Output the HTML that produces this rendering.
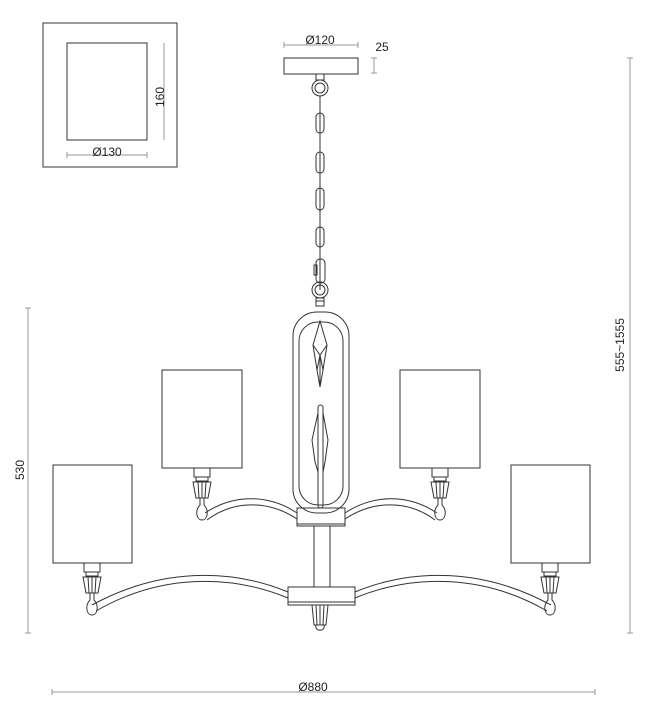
<!DOCTYPE html>
<html><head><meta charset="utf-8"><style>
html,body{margin:0;padding:0;background:#fff;}
svg{display:block;}
text{font-family:"Liberation Sans",sans-serif;fill:#222;}
</style></head><body>
<svg width="647" height="720" viewBox="0 0 647 720" xmlns="http://www.w3.org/2000/svg">
<g fill="none" stroke="#333" stroke-width="1">
<!-- top-left detail box -->
<rect x="43" y="23" width="134" height="144"/>
<rect x="67" y="43" width="80" height="97"/>
<line x1="164" y1="43" x2="164" y2="140" stroke="#999"/>
<line x1="67" y1="155" x2="147" y2="155" stroke="#999"/>
<line x1="67" y1="152" x2="67" y2="158" stroke="#999"/>
<line x1="147" y1="152" x2="147" y2="158" stroke="#999"/>
<!-- canopy -->
<rect x="284" y="58" width="74" height="16"/>
<line x1="284" y1="45" x2="358" y2="45" stroke="#999"/>
<line x1="284" y1="42" x2="284" y2="48" stroke="#999"/>
<line x1="358" y1="42" x2="358" y2="48" stroke="#999"/>
<line x1="374" y1="58" x2="374" y2="73" stroke="#999"/>
<line x1="371" y1="58" x2="377" y2="58" stroke="#999"/>
<line x1="371" y1="73" x2="377" y2="73" stroke="#999"/>
<!-- chain -->
<rect x="316" y="74" width="8" height="6"/>
<circle cx="320" cy="88" r="8"/><circle cx="320" cy="88" r="5"/>
<line x1="320" y1="96" x2="320" y2="290"/>
<rect x="316" y="113" width="8" height="20" rx="4"/>
<rect x="316" y="152" width="8" height="21" rx="4"/>
<rect x="316" y="188" width="8" height="22" rx="4"/>
<rect x="316" y="227" width="8" height="20" rx="4"/>
<rect x="316" y="259" width="9" height="24" rx="4"/>
<rect x="314" y="265" width="3" height="10"/>
<circle cx="320" cy="290" r="8"/><circle cx="320" cy="290" r="5"/>
<rect x="316" y="298" width="8" height="8"/>
<line x1="316" y1="301" x2="324" y2="301"/>
<!-- frame -->
<rect x="293" y="312" width="56" height="201" rx="24"/>
<rect x="299" y="322" width="44" height="183" rx="19"/>
<path d="M320 321 L327 345 L323 370 L320 387 L317 370 L313 345 Z"/>
<path d="M313 345 L320 355 L327 345 M317 370 L320 355 L323 370 M320 355 L320 387"/>
<rect x="318" y="405" width="5" height="103" rx="2.5"/>
<path d="M318 413 L312 440 L315 462 L318 472 M323 413 L328 440 L325 462 L323 472"/>
<!-- upper hub and stem -->
<rect x="297" y="508" width="48" height="18"/>
<line x1="297" y1="524" x2="345" y2="524"/>
<rect x="314" y="526" width="16" height="61"/>
<rect x="288" y="587" width="67" height="18"/>
<line x1="288" y1="602" x2="355" y2="602"/>
<!-- upper arms -->
<path d="M297 513 C270 495 235 493 205 513"/>
<path d="M297 519 C270 501 235 499 207 520"/>
<path d="M345 513 C372 495 407 493 437 513"/>
<path d="M345 519 C372 501 407 499 435 520"/>
<!-- lower arms -->
<path d="M288 592 C230 568 160 568 92 605"/>
<path d="M288 598 C230 574 160 574 96 611"/>
<path d="M355 592 C413 568 483 568 551 605"/>
<path d="M355 598 C413 574 483 574 547 611"/>
<!-- shades -->
<rect x="162" y="370" width="80" height="98"/>
<rect x="400" y="370" width="80" height="98"/>
<rect x="53" y="465" width="79" height="98"/>
<rect x="511" y="465" width="79" height="98"/>
</g>
<!-- finials -->
<defs>
<g id="fin" fill="none" stroke="#333" stroke-width="1">
<rect x="-8" y="0" width="16" height="9"/>
<rect x="-6" y="9" width="12" height="4"/>
<path d="M-9 14 L9 14 L6 30 L-6 30 Z"/>
<path d="M-4 14 L-3 30 M0 14 L0 30 M4 14 L3 30"/>
<path d="M-2 30 L-2 37 C-7 42 -6 52 0 52 C6 52 7 42 2 37 L2 30"/>
</g>
</defs>
<use href="#fin" x="202" y="468"/>
<use href="#fin" x="440" y="468"/>
<use href="#fin" x="92" y="563"/>
<use href="#fin" x="550" y="563"/>
<g fill="none" stroke="#333" stroke-width="1">
<path d="M312 605 L328 605 L326 625 L314 625 Z M316 605 L317 625 M320 605 L320 625 M324 605 L323 625"/>
<path d="M316 625 C314 632 326 632 324 625"/>
</g>
<!-- dimension lines -->
<g stroke="#999" stroke-width="1">
<line x1="630" y1="58" x2="630" y2="633"/>
<line x1="627" y1="58" x2="633" y2="58"/><line x1="627" y1="633" x2="633" y2="633"/>
<line x1="28" y1="308" x2="28" y2="633"/>
<line x1="25" y1="308" x2="31" y2="308"/><line x1="25" y1="633" x2="31" y2="633"/>
<line x1="52" y1="692" x2="595" y2="692"/>
<line x1="52" y1="689" x2="52" y2="695"/><line x1="595" y1="689" x2="595" y2="695"/>
</g>
<g font-size="12">
<text x="107" y="156" text-anchor="middle">Ø130</text>
<text transform="translate(164,97) rotate(-90)" text-anchor="middle">160</text>
<text x="320" y="44" text-anchor="middle">Ø120</text>
<text x="382" y="51" text-anchor="middle">25</text>
<text transform="translate(624,345) rotate(-90)" text-anchor="middle">555~1555</text>
<text transform="translate(24,470) rotate(-90)" text-anchor="middle">530</text>
<text x="313" y="691" text-anchor="middle">Ø880</text>
</g>
</svg>
</body></html>
